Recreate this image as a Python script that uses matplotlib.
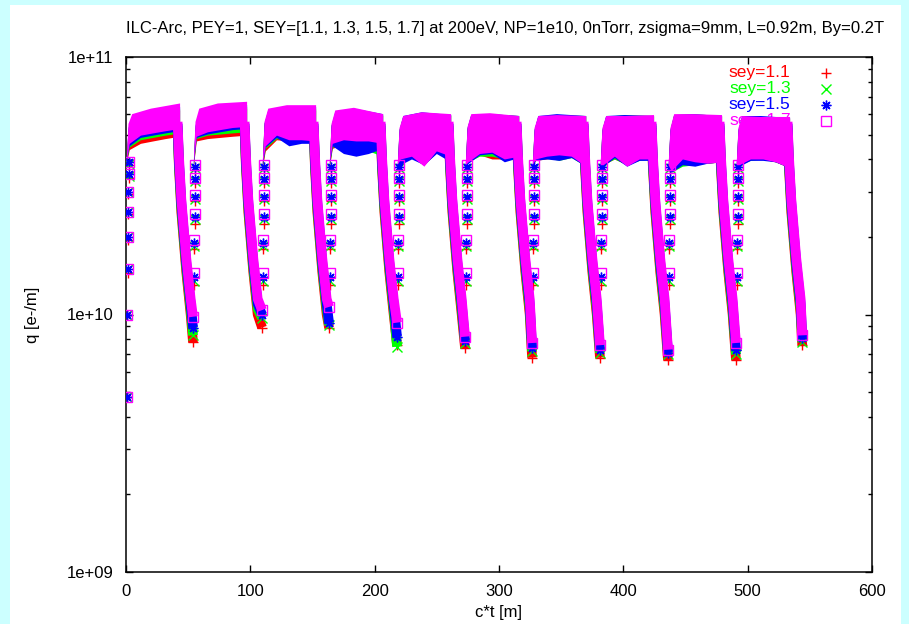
import matplotlib as mpl
mpl.use('Agg')
import math
import matplotlib.pyplot as plt
from matplotlib.patches import Rectangle
from matplotlib.ticker import FixedLocator, FuncFormatter, LogLocator, NullFormatter

plt.rcParams['font.family'] = ['Liberation Sans', 'DejaVu Sans']

# position of the end of each bunch train (where the cloud is lowest) [m]
dip_x = [53.9, 109.4, 163.3, 218.0, 272.7, 326.6, 381.2, 435.9, 490.6, 543.9]
train_x0 = [0.0] + dip_x[:-1]

# knots (distance from train start) used for the envelopes
rise_dx = [0.9, 1.1, 1.3, 1.5, 1.7, 1.9, 2.1, 2.3]
top_dx = [2, 5, 20, 43.5]
floor_dx = [3, 12, 22, 32, 43.5]
decay_dx = [41.5, 42.5, 44.5, 48.5, 52.0]

labels = ['sey=1.1', 'sey=1.3', 'sey=1.5', 'sey=1.7']
colors = ['#ff0000', '#00ff00', '#0000ff', '#ff00ff']

# first bunches of each train
rise_first_11 = [4.8e9, 1.0e10, 1.45e10, 1.95e10, 2.45e10, 2.95e10, 3.4e10, 3.8e10]
rise_first_13 = [4.8e9, 1.0e10, 1.5e10, 2.0e10, 2.5e10, 3.0e10, 3.45e10, 3.85e10]
rise_first_15 = [4.8e9, 1.0e10, 1.5e10, 2.0e10, 2.5e10, 3.0e10, 3.5e10, 3.9e10]
rise_first_17 = [4.8e9, 1.0e10, 1.5e10, 2.0e10, 2.5e10, 3.0e10, 3.5e10, 3.9e10]
rise_11 = [1.3e10, 1.8e10, 2.25e10, 2.75e10, 3.25e10, 3.65e10]
rise_13 = [1.35e10, 1.85e10, 2.35e10, 2.8e10, 3.3e10, 3.7e10]
rise_15 = [1.4e10, 1.9e10, 2.4e10, 2.85e10, 3.35e10, 3.75e10]
rise_17 = [1.45e10, 1.95e10, 2.45e10, 2.9e10, 3.4e10, 3.8e10]

# upper envelope of the plateau, one row per train (at top_dx)
top_11 = [[5.1e10, 5.6e10, 5.9e10, 6.2e10], [5.2e10, 5.9e10, 6.2e10, 6.3e10],
          [5.4e10, 6.0e10, 6.2e10, 6.2e10], [5.3e10, 6.0e10, 6.2e10, 5.9e10],
          [5.1e10, 5.8e10, 6.0e10, 5.9e10], [5.2e10, 5.9e10, 5.95e10, 5.85e10],
          [5.1e10, 5.8e10, 5.9e10, 5.85e10], [5.1e10, 5.8e10, 5.9e10, 5.85e10],
          [5.1e10, 5.9e10, 5.95e10, 5.85e10], [5.1e10, 5.8e10, 5.8e10, 5.75e10]]
top_13 = [[5.2e10, 5.7e10, 6.0e10, 6.3e10], [5.3e10, 6.0e10, 6.3e10, 6.4e10],
          [5.5e10, 6.1e10, 6.3e10, 6.3e10], [5.4e10, 6.0e10, 6.25e10, 5.95e10],
          [5.2e10, 5.85e10, 6.05e10, 5.95e10], [5.25e10, 5.95e10, 6.0e10, 5.9e10],
          [5.2e10, 5.85e10, 5.95e10, 5.9e10], [5.2e10, 5.85e10, 5.95e10, 5.9e10],
          [5.2e10, 5.95e10, 6.0e10, 5.9e10], [5.2e10, 5.85e10, 5.85e10, 5.8e10]]
top_15 = [[5.3e10, 5.8e10, 6.1e10, 6.4e10], [5.4e10, 6.1e10, 6.4e10, 6.5e10],
          [5.5e10, 6.2e10, 6.4e10, 6.4e10], [5.4e10, 6.1e10, 6.3e10, 6.0e10],
          [5.2e10, 5.9e10, 6.1e10, 5.95e10], [5.3e10, 5.95e10, 6.0e10, 5.9e10],
          [5.2e10, 5.9e10, 6.0e10, 5.9e10], [5.2e10, 5.9e10, 5.95e10, 5.9e10],
          [5.2e10, 5.95e10, 6.0e10, 5.9e10], [5.2e10, 5.9e10, 5.9e10, 5.8e10]]
top_17 = [[5.5e10, 6.0e10, 6.3e10, 6.6e10], [5.6e10, 6.3e10, 6.6e10, 6.7e10],
          [5.6e10, 6.3e10, 6.5e10, 6.5e10], [5.5e10, 6.2e10, 6.35e10, 6.0e10],
          [5.3e10, 5.9e10, 6.1e10, 6.0e10], [5.35e10, 6.0e10, 6.05e10, 5.9e10],
          [5.3e10, 5.9e10, 5.95e10, 5.9e10], [5.3e10, 5.9e10, 5.9e10, 5.95e10],
          [5.3e10, 6.0e10, 6.0e10, 5.95e10], [5.3e10, 5.9e10, 5.85e10, 5.85e10]]

# lower envelope of the plateau, one row per train (at floor_dx)
floor_11 = [[4.35e10, 4.6e10, 4.7e10, 4.8e10, 4.9e10], [4.7e10, 4.8e10, 4.85e10, 4.9e10, 4.95e10],
            [4.3e10, 4.75e10, 4.7e10, 4.7e10, 4.65e10], [4.4e10, 4.55e10, 4.5e10, 4.45e10, 4.4e10],
            [3.9e10, 4.05e10, 3.8e10, 4.25e10, 4.0e10], [3.9e10, 4.15e10, 4.0e10, 4.0e10, 4.05e10],
            [3.95e10, 4.0e10, 4.1e10, 4.1e10, 3.75e10], [3.8e10, 4.0e10, 3.8e10, 4.0e10, 4.0e10],
            [3.6e10, 3.9e10, 3.85e10, 3.85e10, 3.9e10], [3.8e10, 4.0e10, 4.0e10, 3.9e10, 3.7e10]]
floor_13 = [[4.45e10, 4.75e10, 4.85e10, 4.95e10, 5.05e10], [4.8e10, 4.95e10, 5.0e10, 5.05e10, 5.1e10],
            [4.4e10, 4.8e10, 4.7e10, 4.7e10, 4.65e10], [4.45e10, 4.5e10, 4.4e10, 4.3e10, 4.1e10],
            [3.9e10, 4.05e10, 3.8e10, 4.25e10, 4.0e10], [3.9e10, 4.1e10, 4.1e10, 4.0e10, 4.05e10],
            [3.95e10, 4.05e10, 3.95e10, 4.05e10, 3.75e10], [3.8e10, 4.0e10, 3.8e10, 3.95e10, 4.0e10],
            [3.55e10, 3.75e10, 3.8e10, 3.85e10, 3.9e10], [3.8e10, 3.95e10, 4.0e10, 3.9e10, 3.7e10]]
floor_15 = [[4.5e10, 4.85e10, 4.95e10, 5.05e10, 5.15e10], [4.85e10, 5.0e10, 5.1e10, 5.2e10, 5.25e10],
            [4.45e10, 4.85e10, 4.5e10, 4.6e10, 4.6e10], [4.5e10, 4.2e10, 4.1e10, 4.2e10, 4.4e10],
            [3.8e10, 4.0e10, 3.8e10, 4.2e10, 3.9e10], [3.85e10, 4.15e10, 4.2e10, 3.9e10, 4.05e10],
            [3.95e10, 4.0e10, 3.95e10, 4.05e10, 3.75e10], [3.75e10, 4.05e10, 3.75e10, 3.95e10, 3.95e10],
            [3.55e10, 3.8e10, 3.75e10, 3.85e10, 3.9e10], [3.75e10, 3.95e10, 3.95e10, 3.9e10, 3.7e10]]
floor_17 = [[4.6e10, 4.95e10, 5.05e10, 5.15e10, 5.25e10], [4.9e10, 5.1e10, 5.2e10, 5.3e10, 5.35e10],
            [4.5e10, 4.95e10, 4.75e10, 4.75e10, 4.7e10], [4.6e10, 4.75e10, 4.7e10, 4.7e10, 4.6e10],
            [4.0e10, 4.1e10, 3.75e10, 4.3e10, 4.1e10], [3.9e10, 4.2e10, 4.25e10, 4.0e10, 4.1e10],
            [4.0e10, 4.1e10, 4.15e10, 4.1e10, 3.75e10], [3.8e10, 4.1e10, 3.75e10, 4.0e10, 4.0e10],
            [3.6e10, 4.0e10, 3.9e10, 3.85e10, 3.9e10], [3.8e10, 4.0e10, 4.0e10, 3.9e10, 3.7e10]]

# decay in the gap after each train (at decay_dx), then the minimum at dip_x
decay_11 = [5.3e10, 3.8e10, 2.5e10, 1.46e10, 1.0e10]
decay_13 = [5.4e10, 3.9e10, 2.6e10, 1.52e10, 1.05e10]
decay_15 = [5.5e10, 4.0e10, 2.7e10, 1.58e10, 1.1e10]
decay_17 = [5.6e10, 4.2e10, 2.8e10, 1.65e10, 1.15e10]
dip_11 = [7.8e9, 8.9e9, 8.9e9, 7.6e9, 7.4e9, 6.8e9, 6.8e9, 6.65e9, 6.65e9, 7.6e9]
dip_13 = [8.3e9, 9.7e9, 9.1e9, 7.5e9, 7.75e9, 7.2e9, 7.1e9, 7.0e9, 7.0e9, 7.8e9]
dip_15 = [8.9e9, 1.0e10, 9.3e9, 8.2e9, 7.9e9, 7.4e9, 7.3e9, 7.1e9, 7.3e9, 8.1e9]
dip_17 = [9.8e9, 1.04e10, 1.07e10, 9.3e9, 8.2e9, 7.75e9, 7.6e9, 7.3e9, 7.75e9, 8.3e9]

all_series = [
    (rise_first_11, rise_11, top_11, floor_11, decay_11, dip_11),
    (rise_first_13, rise_13, top_13, floor_13, decay_13, dip_13),
    (rise_first_15, rise_15, top_15, floor_15, decay_15, dip_15),
    (rise_first_17, rise_17, top_17, floor_17, decay_17, dip_17),
]
markers = ['+', 'x', (8, 2, 0), 's']

fig = plt.figure(figsize=(9.09, 6.24), dpi=100)
fig.patch.set_facecolor('#ccffff')
fig.patches.append(Rectangle((10 / 909, 0), 891 / 909, 619 / 624, transform=fig.transFigure,
                             facecolor='white', edgecolor='none', zorder=-5))

ax = fig.add_axes([126 / 909, 52 / 624, 746 / 909, 515 / 624])
ax.set_facecolor('white')
ax.set_yscale('log')
ax.set_xlim(0, 600)
ax.set_ylim(1e9, 1e11)


def mk(m, c):
    if m == 's':
        return dict(marker='s', ms=6.5, mfc='none', mec=c, mew=1.0)
    return dict(marker=m, ms=7, mfc=c, mec=c, mew=1.0)


for (rf, rs, top, floor, decay, dip), c, m in zip(all_series, colors, markers):
    for k, x0 in enumerate(train_x0):
        r = rf if k == 0 else rs
        # plateau band (oscillation during the bunch train)
        xs = [x0 + 0.5] + [x0 + d for d in top_dx] + [x0 + d for d in floor_dx[::-1]]
        ys = [r[-1]] + top[k] + floor[k][::-1]
        ax.fill(xs, ys, color=c, lw=0, zorder=3)
        # decay in the gap
        ax.plot([x0 + d for d in decay_dx] + [dip_x[k]], decay + [dip[k]],
                color=c, lw=7, solid_capstyle='butt', zorder=3)
        ax.plot([dip_x[k]], [dip[k]], ls='none', zorder=3, **mk(m, c))
        # first bunch passages
        ax.plot([x0 + d for d in rise_dx[:len(r)]], r, ls='none', zorder=3, **mk(m, c))

# key (drawn under the data, like the original)
key_y = [0.969, 0.938, 0.907, 0.876]
for lab, c, m, yk in zip(labels, colors, markers, key_y):
    ax.text(0.891, yk, lab, color=c, fontsize=12.5, ha='right', va='center',
            transform=ax.transAxes, zorder=1)
    ax.plot([0.938], [yk], ls='none', transform=ax.transAxes, zorder=1, clip_on=False, **mk(m, c))

ax.xaxis.set_major_locator(FixedLocator([0, 100, 200, 300, 400, 500, 600]))
ax.yaxis.set_major_locator(FixedLocator([1e9, 1e10, 1e11]))
ax.yaxis.set_major_formatter(FuncFormatter(lambda v, p: '1e+%02d' % round(math.log10(v))))
ax.yaxis.set_minor_locator(LogLocator(base=10, subs=range(2, 10)))
ax.yaxis.set_minor_formatter(NullFormatter())
ax.tick_params(which='both', direction='in', top=True, right=True, width=1.0, labelsize=12)
ax.tick_params(which='major', length=5, pad=9)
ax.tick_params(which='minor', length=3)
for s in ax.spines.values():
    s.set_linewidth(1.1)

fig.text(505 / 909, 1 - 28 / 624, 'ILC-Arc, PEY=1, SEY=[1.1, 1.3, 1.5, 1.7] at 200eV, NP=1e10, 0nTorr, zsigma=9mm, L=0.92m, By=0.2T',
         ha='center', va='center', fontsize=12)
fig.text(499 / 909, 1 - 612 / 624, 'c*t [m]', ha='center', va='center', fontsize=12)
fig.text(33 / 909, 1 - 315 / 624, 'q [e-/m]', ha='center', va='center', rotation=90, fontsize=12)

fig.savefig('out.png', dpi=100, facecolor=fig.get_facecolor())
